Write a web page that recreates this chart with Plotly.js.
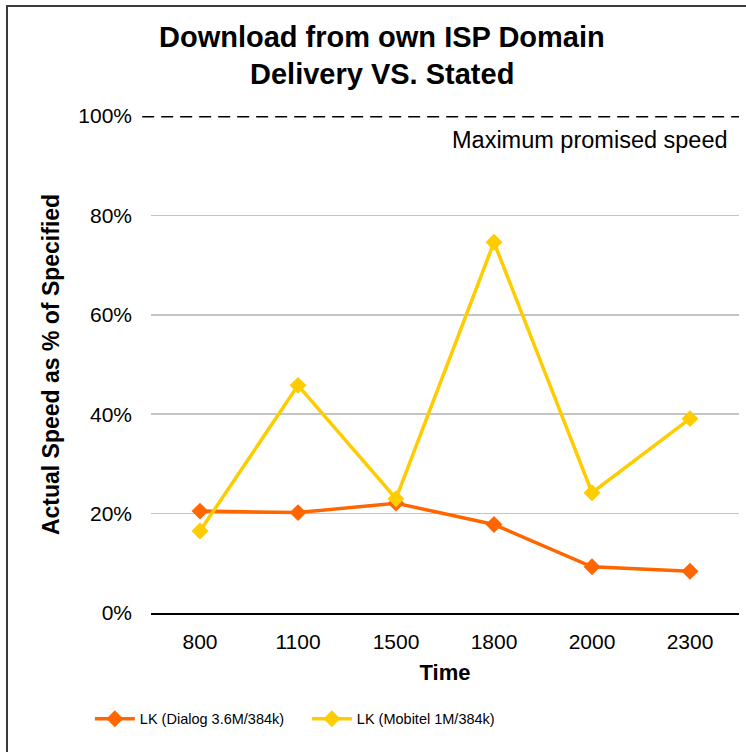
<!DOCTYPE html>
<html>
<head>
<meta charset="utf-8">
<script src="https://cdn.plot.ly/plotly-3.0.1.min.js"></script>
<style>
html,body{margin:0;padding:0;background:#fff;overflow:hidden;}
#wrap{position:relative;width:746px;height:752px;overflow:hidden;}
#chart{position:absolute;left:0;top:0;width:746px;height:752px;}
#frame{position:absolute;left:6px;top:5px;width:800px;height:800px;border:2px solid #3a3a3a;pointer-events:none;}
</style>
</head>
<body>
<div id="wrap"><div id="chart"></div><div id="frame"></div></div>
<script>
const times = ["800", "1100", "1500", "1800", "2000", "2300"];
const dialog = [0.205, 0.202, 0.221, 0.178, 0.093, 0.084];
const mobitel = [0.165, 0.458, 0.230, 0.746, 0.242, 0.391];
const seriesNames = ["LK (Dialog 3.6M/384k)", "LK (Mobitel 1M/384k)"];
const maxPromised = 1.0;

const FONT = "Liberation Sans, Arial, sans-serif";

const traces = [
  {x: times, y: dialog, name: seriesNames[0], type: "scatter", mode: "lines+markers",
   line: {color: "#FF6600", width: 3.5}, marker: {symbol: "diamond", size: 13, color: "#FF6600"}},
  {x: times, y: mobitel, name: seriesNames[1], type: "scatter", mode: "lines+markers",
   line: {color: "#FFCC00", width: 3.5}, marker: {symbol: "diamond", size: 13, color: "#FFCC00"}}
];

const layout = {
  width: 746, height: 752,
  margin: {l: 151, r: 7, t: 116, b: 139},
  paper_bgcolor: "#fff", plot_bgcolor: "#fff",
  font: {family: FONT, color: "#000"},
  showlegend: true,
  legend: {orientation: "h", x: -0.104, xanchor: "left", y: -0.213, yanchor: "middle",
           font: {size: 14.5, family: FONT}, itemwidth: 40, entrywidth: 162, tracegroupgap: 0},
  xaxis: {type: "category", range: [-0.5, 5.5], showgrid: false, showline: true,
          linecolor: "#000", linewidth: 1.5, ticks: "", ticklabelstandoff: 9,
          tickfont: {size: 21, family: FONT},
          title: {text: "<b>Time</b>", font: {size: 22, family: FONT}, standoff: 13}},
  yaxis: {range: [0, 1], tickvals: [0, 0.2, 0.4, 0.6, 0.8, 1.0], tickformat: ".0%",
          showgrid: true, gridcolor: "#c4c4c4", gridwidth: 1.5, zeroline: false,
          ticks: "", ticklabelstandoff: 18, tickfont: {size: 21, family: FONT},
          title: {text: "<b>Actual Speed as % of Specified</b>", font: {size: 23, family: FONT}, standoff: 12}},
  shapes: [
    {type: "line", xref: "paper", x0: -0.015, x1: 1, yref: "y", y0: maxPromised, y1: maxPromised,
     line: {color: "#000", width: 2.8, dash: "12px,7px"}}
  ],
  annotations: [
    {text: "<b>Download from own ISP Domain</b>", xref: "paper", yref: "paper", x: 0.393, y: 1.159,
     xanchor: "center", yanchor: "middle", showarrow: false, font: {size: 29, family: FONT}},
    {text: "<b>Delivery VS. Stated</b>", xref: "paper", yref: "paper", x: 0.393, y: 1.084,
     xanchor: "center", yanchor: "middle", showarrow: false, font: {size: 29, family: FONT}},
    {text: "Maximum promised speed", xref: "paper", yref: "paper", x: 0.985, y: 0.952,
     xanchor: "right", yanchor: "middle", showarrow: false, font: {size: 23.5, family: FONT}}
  ]
};

Plotly.newPlot("chart", traces, layout, {displayModeBar: false, staticPlot: true});
</script>
</body>
</html>
